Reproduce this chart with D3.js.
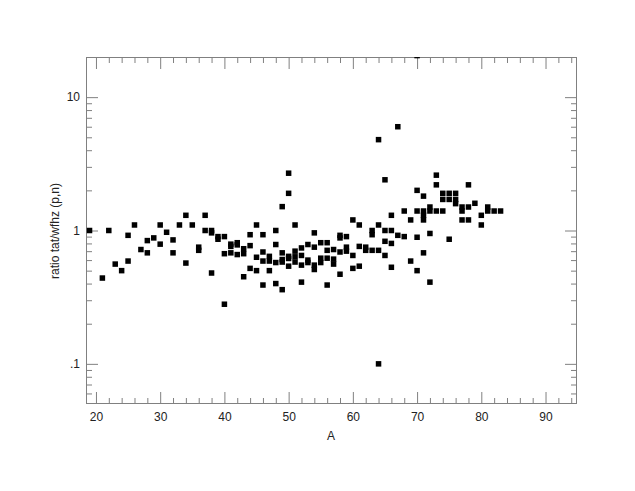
<!DOCTYPE html>
<html>
<head>
<meta charset="utf-8">
<script src="https://cdn.jsdelivr.net/npm/d3@7/dist/d3.min.js"></script>
<style>
  html, body { margin: 0; padding: 0; background: #fff; }
  svg { display: block; }
  text { font-family: "Liberation Sans", Arial, Helvetica, sans-serif; }
</style>
</head>
<body>
<svg id="chart" width="635" height="491"></svg>
<script>
// ---- data ----
const massNumbers = [
  19, 21, 22, 23, 24, 25, 25, 26, 27, 28, 28, 29, 30, 30, 31, 32, 32, 33, 34, 34, 35,
  36, 36, 37, 37, 38, 38, 38, 39, 39, 40, 40, 40, 41, 41, 41, 42, 42, 42, 43, 43, 43,
  44, 44, 44, 45, 45, 45, 46, 46, 46, 46, 47, 47, 47, 48, 48, 48, 48,
  49, 49, 49, 49, 49, 50, 50, 50, 50, 50, 51, 51, 51, 51, 52, 52, 52, 52,
  53, 53, 53, 54, 54, 54, 54, 55, 55, 55, 56, 56, 56, 56, 57, 57, 57,
  58, 58, 58, 58, 59, 59, 59, 60, 60, 60, 61, 61, 61, 62, 62, 63, 63, 63,
  64, 64, 64, 64, 65, 65, 65, 65, 66, 66, 66, 66, 67, 67, 68, 68, 69, 69,
  70, 70, 70, 70, 70, 71, 71, 71, 71, 71, 72, 72, 72, 72, 73, 73, 73,
  74, 74, 74, 75, 75, 75, 76, 76, 76, 77, 77, 77, 78, 78, 78, 79, 80, 80,
  81, 81, 82, 83
];
const ratios = [
  1.0, 0.44, 1.0, 0.56, 0.50, 0.92, 0.59, 1.10, 0.72, 0.84, 0.68, 0.88, 1.10, 0.79, 0.97, 0.85, 0.68, 1.10, 1.30, 0.57, 1.10,
  0.75, 0.71, 1.30, 1.0, 1.0, 0.96, 0.48, 0.90, 0.86, 0.90, 0.67, 0.28, 0.79, 0.76, 0.68, 0.81, 0.78, 0.66, 0.73, 0.67, 0.45,
  0.93, 0.77, 0.52, 1.10, 0.63, 0.50, 0.93, 0.69, 0.59, 0.39, 0.64, 0.59, 0.50, 1.0, 0.785, 0.575, 0.40,
  1.51, 0.68, 0.606, 0.58, 0.36, 2.69, 1.90, 0.64, 0.617, 0.54, 1.10, 0.70, 0.635, 0.58, 0.74, 0.65, 0.55, 0.41,
  0.785, 0.60, 0.575, 0.96, 0.75, 0.55, 0.51, 0.81, 0.62, 0.575, 0.81, 0.71, 0.62, 0.39, 0.72, 0.61, 0.56,
  0.92, 0.88, 0.69, 0.47, 0.90, 0.75, 0.70, 1.20, 0.65, 0.52, 1.10, 0.76, 0.54, 0.75, 0.71, 1.0, 0.93, 0.71,
  4.8, 1.10, 0.71, 0.10, 2.40, 1.0, 0.83, 0.65, 1.30, 1.0, 0.80, 0.53, 6.0, 0.92, 1.40, 0.90, 1.20, 0.59,
  20.5, 2.0, 1.40, 0.89, 0.50, 1.81, 1.40, 1.30, 1.20, 0.68, 1.50, 1.40, 0.95, 0.41, 2.6, 2.2, 1.40,
  1.90, 1.71, 1.40, 1.90, 1.71, 0.86, 1.90, 1.71, 1.59, 1.50, 1.40, 1.20, 2.2, 1.50, 1.20, 1.60, 1.30, 1.10,
  1.50, 1.40, 1.40, 1.40
];
const xMajorTicks = [20, 30, 40, 50, 60, 70, 80, 90];
const xTickLabels = ["20", "30", "40", "50", "60", "70", "80", "90"];
const xMinorTicks = [22, 24, 26, 28, 32, 34, 36, 38, 42, 44, 46, 48, 52, 54, 56, 58, 62, 64, 66, 68, 72, 74, 76, 78, 82, 84, 86, 88, 92, 94];
const yMajorTicks = [0.1, 1, 10];
const yTickLabels = [".1", "1", "10"];
const yMinorTicks = [0.06, 0.07, 0.08, 0.09, 0.2, 0.3, 0.4, 0.5, 0.6, 0.7, 0.8, 0.9, 2, 3, 4, 5, 6, 7, 8, 9, 20];
const xTitle = "A";
const yTitle = "ratio tat/wfhz (p,n)";

// ---- layout ----
const L = 86, R = 577, T = 57, B = 404;
const svg = d3.select("#chart");
const x = d3.scaleLinear().domain([18.45, 94.9]).range([L, R]);
const y = d3.scaleLog().domain([0.05, 20]).range([B, T]);
const axisColor = "#808080";
const major = 12, minor = 6;

function styleAxis(g) {
  g.select(".domain").remove();
  g.selectAll(".tick line").attr("stroke", axisColor).attr("stroke-width", 1);
  g.selectAll(".tick text").attr("fill", "#222").style("font-size", "12px")
    .style("font-family", '"Liberation Sans", Arial, Helvetica, sans-serif');
}

const xLab = d => xTickLabels[xMajorTicks.indexOf(d)];
const yLab = d => yTickLabels[yMajorTicks.indexOf(d)];

// bottom
svg.append("g").attr("transform", `translate(0,${B})`)
  .call(d3.axisBottom(x).tickValues(xMajorTicks).tickFormat(xLab).tickSizeInner(-major).tickSizeOuter(0).tickPadding(8))
  .call(styleAxis);
svg.append("g").attr("transform", `translate(0,${B})`)
  .call(d3.axisBottom(x).tickValues(xMinorTicks).tickFormat("").tickSizeInner(-minor).tickSizeOuter(0))
  .call(styleAxis);
// top
svg.append("g").attr("transform", `translate(0,${T})`)
  .call(d3.axisTop(x).tickValues(xMajorTicks).tickFormat("").tickSizeInner(-major).tickSizeOuter(0))
  .call(styleAxis);
svg.append("g").attr("transform", `translate(0,${T})`)
  .call(d3.axisTop(x).tickValues(xMinorTicks).tickFormat("").tickSizeInner(-minor).tickSizeOuter(0))
  .call(styleAxis);
// left
svg.append("g").attr("transform", `translate(${L},0)`)
  .call(d3.axisLeft(y).tickValues(yMajorTicks).tickFormat(yLab).tickSizeInner(-major).tickSizeOuter(0).tickPadding(6))
  .call(styleAxis);
svg.append("g").attr("transform", `translate(${L},0)`)
  .call(d3.axisLeft(y).tickValues(yMinorTicks).tickFormat("").tickSizeInner(-minor).tickSizeOuter(0))
  .call(styleAxis);
// right
svg.append("g").attr("transform", `translate(${R},0)`)
  .call(d3.axisRight(y).tickValues(yMajorTicks).tickFormat("").tickSizeInner(-major).tickSizeOuter(0))
  .call(styleAxis);
svg.append("g").attr("transform", `translate(${R},0)`)
  .call(d3.axisRight(y).tickValues(yMinorTicks).tickFormat("").tickSizeInner(-minor).tickSizeOuter(0))
  .call(styleAxis);

// frame
svg.append("rect").attr("x", L + 0.5).attr("y", T + 0.5)
  .attr("width", R - L - 1).attr("height", B - T - 1)
  .attr("fill", "none").attr("stroke", axisColor).attr("stroke-width", 1);

// clip
svg.append("clipPath").attr("id", "plotclip")
  .append("rect").attr("x", L).attr("y", T).attr("width", R - L).attr("height", B - T);

// points
const pts = massNumbers.map((a, i) => ({ a, r: ratios[i] }));
const s = 5.5;
svg.append("g").attr("clip-path", "url(#plotclip)")
  .selectAll("rect").data(pts).join("rect")
  .attr("x", d => x(d.a) - s / 2)
  .attr("y", d => y(d.r) - s / 2)
  .attr("width", s).attr("height", s)
  .attr("fill", "#000");

// titles
svg.append("text").attr("x", (L + R) / 2 - 0.5).attr("y", 440)
  .attr("text-anchor", "middle").attr("fill", "#222").style("font-size", "12px").text(xTitle);
svg.append("text").attr("transform", `translate(59,${(T + B) / 2 + 0.5}) rotate(-90)`)
  .attr("text-anchor", "middle").attr("fill", "#222").style("font-size", "12px").text(yTitle);
</script>
</body>
</html>
